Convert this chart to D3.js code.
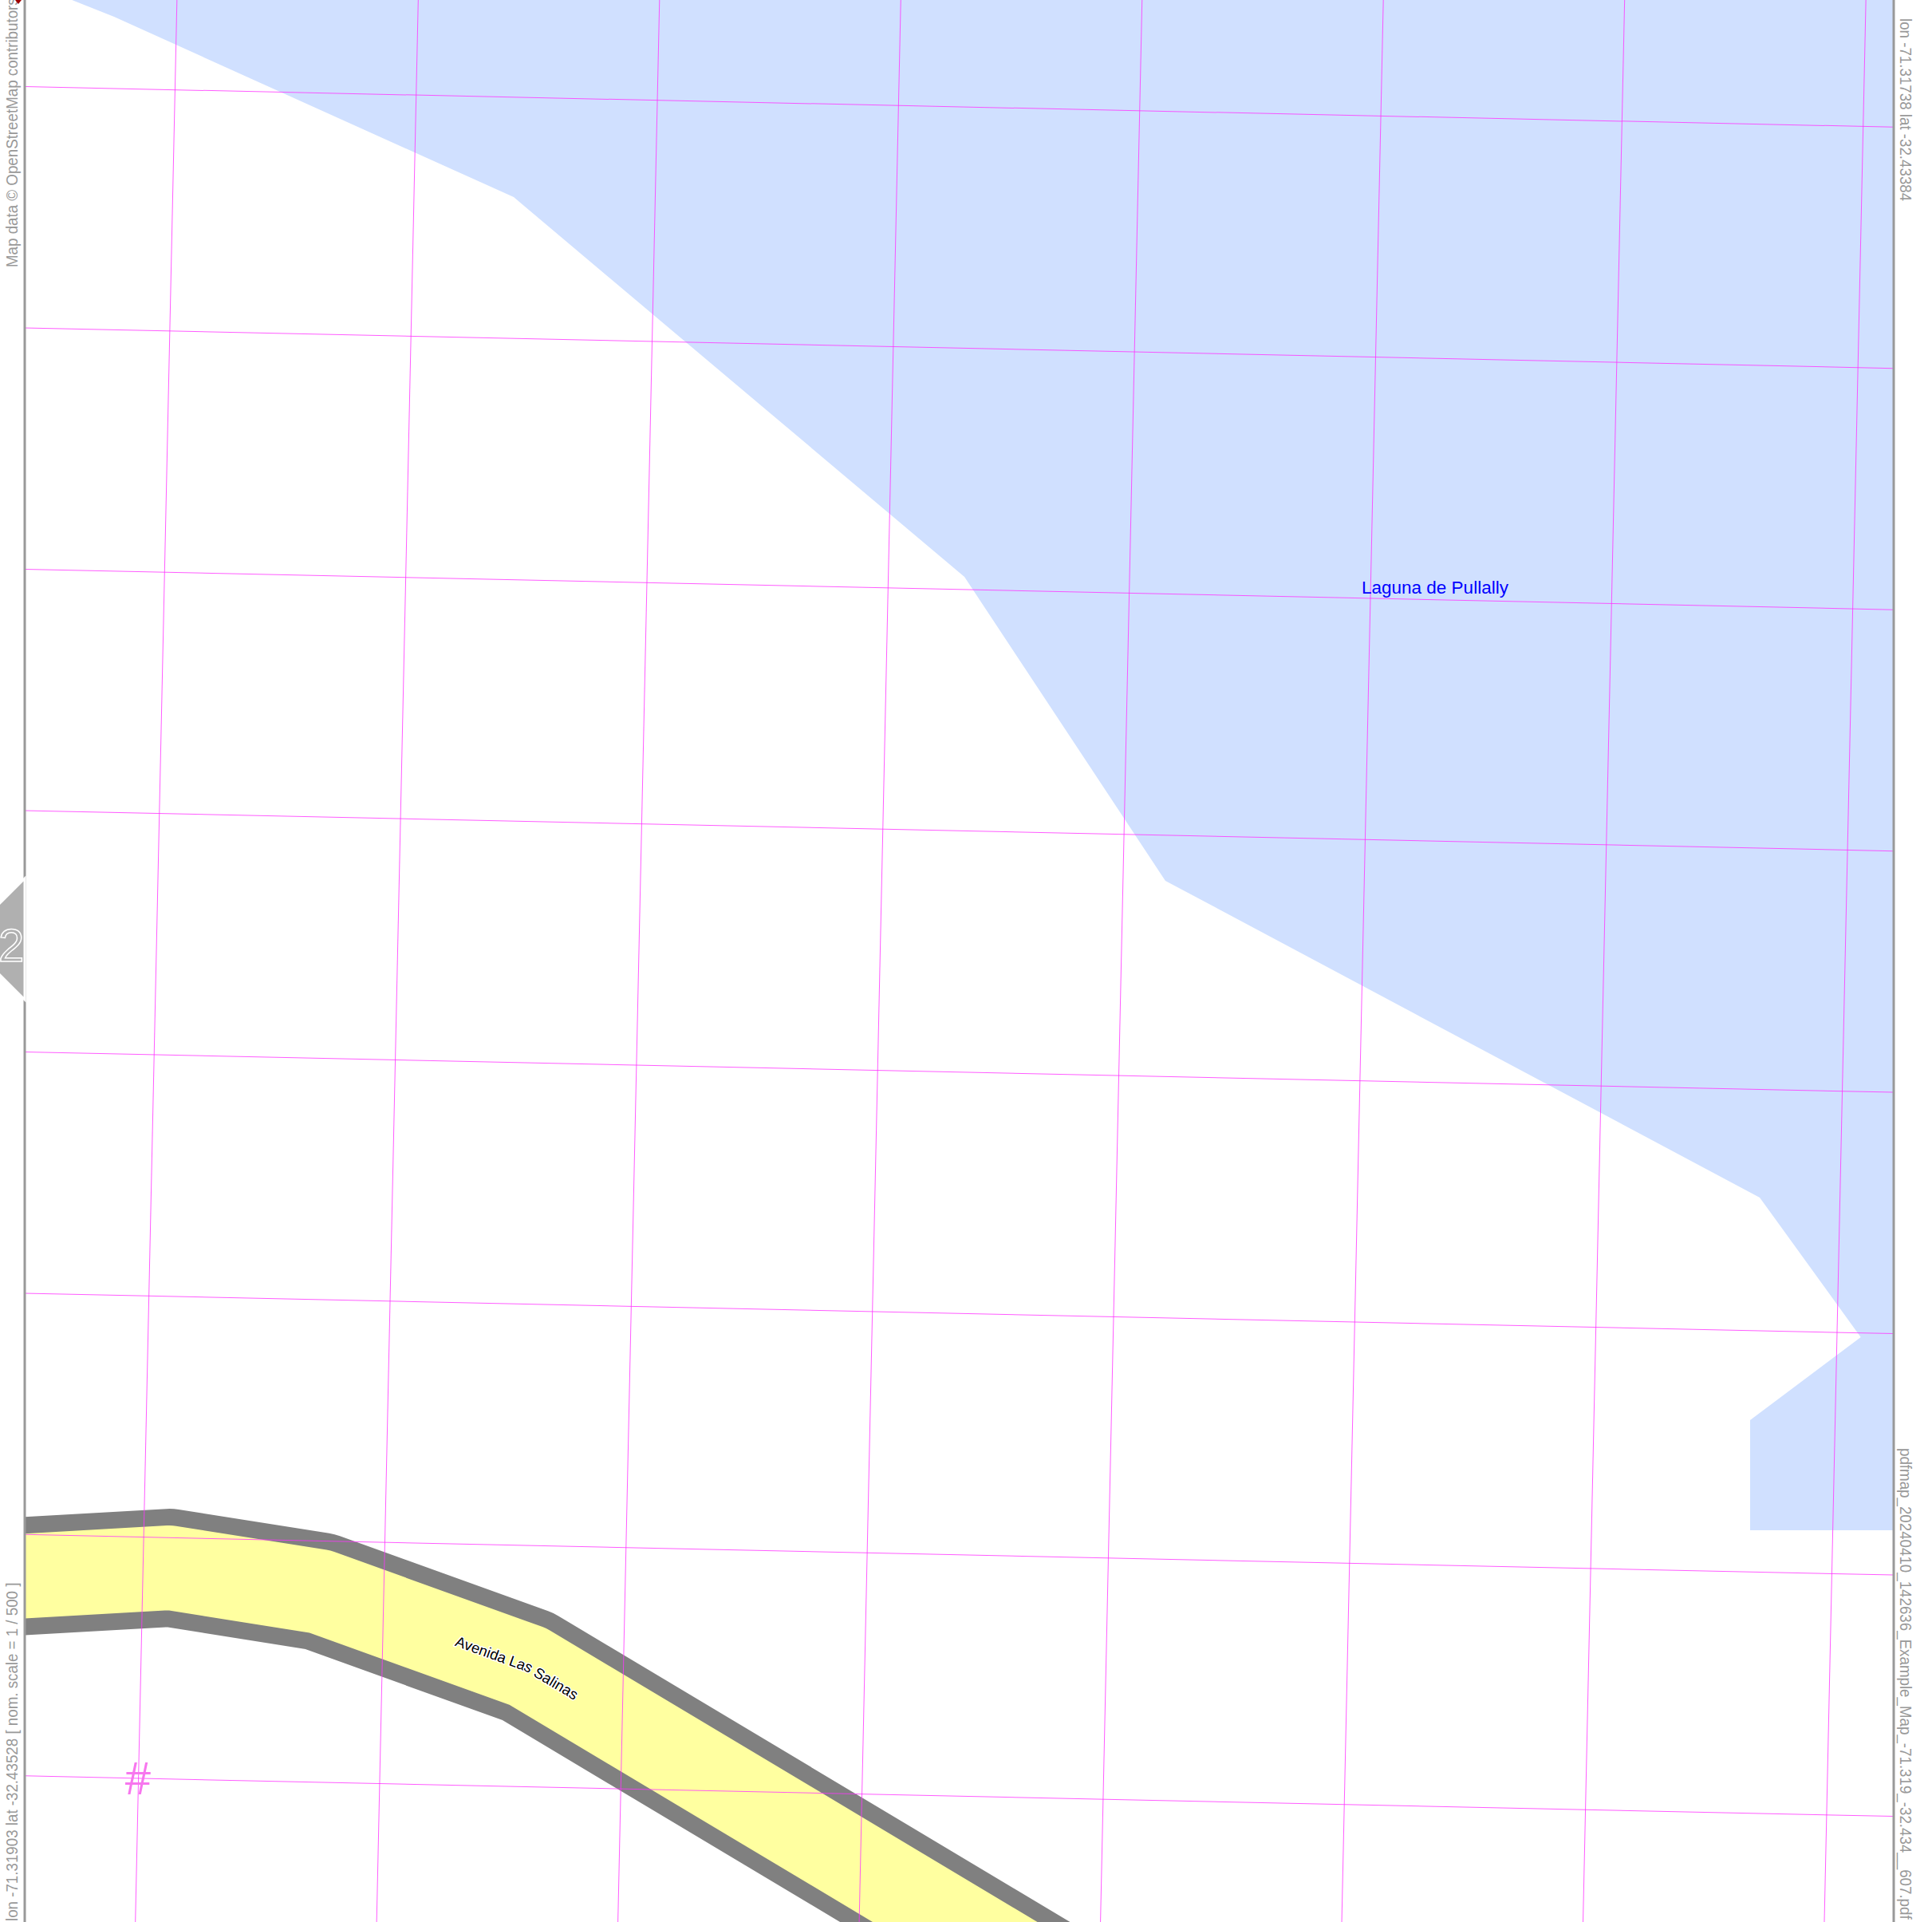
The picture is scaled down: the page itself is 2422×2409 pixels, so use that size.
<!DOCTYPE html>
<html>
<head>
<meta charset="utf-8">
<title>pdfmap</title>
<script src="https://cdnjs.cloudflare.com/ajax/libs/d3/7.8.5/d3.min.js"></script>
<style>
html, body { margin: 0; padding: 0; background: #fff; overflow: hidden; }
svg { display: block; font-family: "Liberation Sans", Arial, sans-serif; }
</style>
</head>
<body>
<div id="map"></div>
<script>
// map extent
var lonExtent = [-71.31903, -71.31738];
var latExtent = [-32.43528, -32.43384];

// Laguna de Pullally outline
var lakeLon = [-71.3190096, -71.3189511, -71.3185983, -71.3182004, -71.3180230, -71.3174983, -71.3174091, -71.3175068, -71.3175068, -71.31738, -71.31738];
var lakeLat = [-32.4338328, -32.4338526, -32.4339877, -32.4342722, -32.4344999, -32.4347372, -32.4348418, -32.4349040, -32.4349865, -32.4349865, -32.4338328];

// Avenida Las Salinas centre line
var roadLon = [-71.3190518, -71.3189022, -71.3187694, -71.3185856, -71.3179955];
var roadLat = [-32.4350218, -32.4350146, -32.4350325, -32.4350887, -32.4353882];

var gridEast = [0, 1, 2, 3, 4, 5, 6, 7];
var gridNorth = [0, 1, 2, 3, 4, 5, 6, 7];

var leftLabels = ["Map data \u00a9 OpenStreetMap contributors", "lon -71.31903 lat -32.43528 [ nom. scale = 1 / 500 ]"];
var rightLabels = ["lon -71.31738 lat -32.43384", "pdfmap_20240410_142636_Example_Map_-71.319_-32.434__607.pdf"];

var width = 2422, height = 2409;
var frameLeft = 31, frameRight = 2374;

var x = d3.scaleLinear().domain(lonExtent).range([frameLeft, frameRight]);
var y = d3.scaleLinear().domain(latExtent).range([height, 0]);
var grid = d3.scaleLinear().domain([0, 1]).range([0, 302.4]);

var line = d3.line()
	.x(function(i) { return x(i[0]); })
	.y(function(i) { return y(i[1]); });

var svg = d3.select("#map").append("svg")
	.attr("width", width)
	.attr("height", height);

svg.append("clipPath").attr("id", "frame")
	.append("rect")
	.attr("x", frameLeft)
	.attr("y", 0)
	.attr("width", frameRight - frameLeft)
	.attr("height", height);

var body = svg.append("g").attr("clip-path", "url(#frame)");

body.append("path")
	.attr("d", line(d3.zip(lakeLon, lakeLat)) + "Z")
	.attr("fill", "#d0e0ff");

var roadPath = line(d3.zip(roadLon, roadLat));
body.append("path")
	.attr("id", "road-casing")
	.attr("d", roadPath)
	.attr("fill", "none")
	.attr("stroke", "#808080")
	.attr("stroke-width", 148)
	.attr("stroke-linejoin", "round");
body.append("path")
	.attr("id", "road-centre")
	.attr("d", roadPath)
	.attr("fill", "none")
	.attr("stroke", "#ffffa0")
	.attr("stroke-width", 106)
	.attr("stroke-linejoin", "round");

// the grid is turned a little against the page
var g = body.append("g")
	.attr("transform", "translate(219.4,112.6) rotate(1.24)");

g.selectAll("line.east")
	.data(gridEast)
	.enter().append("line")
	.attr("class", "east")
	.attr("x1", function(d) { return grid(d); })
	.attr("x2", function(d) { return grid(d); })
	.attr("y1", grid(-1))
	.attr("y2", grid(9));

g.selectAll("line.north")
	.data(gridNorth)
	.enter().append("line")
	.attr("class", "north")
	.attr("y1", function(d) { return grid(d); })
	.attr("y2", function(d) { return grid(d); })
	.attr("x1", grid(-1))
	.attr("x2", grid(8));

g.selectAll("line")
	.attr("stroke", "#ff33ff")
	.attr("stroke-opacity", 0.8)
	.attr("stroke-width", 1);

body.append("text")
	.attr("x", 173)
	.attr("y", 2249)
	.attr("text-anchor", "middle")
	.attr("font-size", 58)
	.attr("fill", "#f777ee")
	.text("#");

body.append("text")
	.attr("x", 1707)
	.attr("y", 744)
	.attr("font-size", 22.5)
	.attr("fill", "#0000ff")
	.text("Laguna de Pullally");

// street name follows the road
var roadLabel = body.append("text")
	.attr("font-size", 18.5)
	.attr("dy", 6.5)
	.attr("fill", "#000")
	.attr("stroke", "#fff")
	.attr("stroke-width", 3)
	.attr("stroke-linejoin", "round")
	.attr("paint-order", "stroke");
roadLabel.append("textPath")
	.attr("href", "#road-centre")
	.attr("startOffset", 585)
	.text("Avenida Las Salinas");

// frame
svg.selectAll("line.frame")
	.data([frameLeft, frameRight])
	.enter().append("line")
	.attr("class", "frame")
	.attr("x1", function(d) { return d; })
	.attr("x2", function(d) { return d; })
	.attr("y1", 0)
	.attr("y2", height)
	.attr("stroke", "#999")
	.attr("stroke-width", 3);

// page number tab
svg.append("path")
	.attr("d", d3.line()([[31, 1101], [-45, 1177], [31, 1253]]) + "Z")
	.attr("fill", "#b0b0b0")
	.attr("stroke", "#fff")
	.attr("stroke-width", 3);
svg.append("text")
	.attr("x", 14)
	.attr("y", 1205)
	.attr("text-anchor", "middle")
	.attr("font-size", 58)
	.attr("fill", "#b0b0b0")
	.attr("stroke", "#fff")
	.attr("stroke-width", 1.5)
	.text("2");

// margin texts are squeezed along the baseline in the original
var marginStyle = function(sel) {
	sel.attr("font-size", 20.5).attr("fill", "#999");
};
svg.append("text").call(marginStyle)
	.attr("transform", "translate(22,335) rotate(-90) scale(0.915,1)")
	.text(leftLabels[0]);
svg.append("text").call(marginStyle)
	.attr("transform", "translate(22,2408) rotate(-90) scale(0.915,1)")
	.text(leftLabels[1]);
svg.append("text").call(marginStyle)
	.attr("transform", "translate(2382,23) rotate(90) scale(0.915,1)")
	.text(rightLabels[0]);
svg.append("text").call(marginStyle)
	.attr("transform", "translate(2382,1815) rotate(90) scale(0.915,1)")
	.text(rightLabels[1]);

svg.append("path")
	.attr("d", d3.line()([[19, 0], [27, 0], [23, 5]]) + "Z")
	.attr("fill", "#a00000");
</script>
</body>
</html>
